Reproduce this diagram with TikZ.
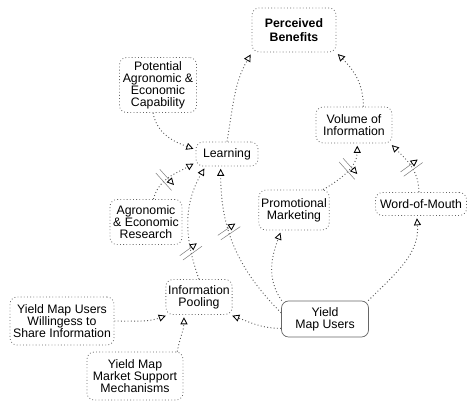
\documentclass[tikz,border=0pt]{standalone}
\usepackage{fontspec}
\setmainfont{Liberation Sans}
\usetikzlibrary{arrows.meta,decorations.markings}

\begin{document}
\begin{tikzpicture}[x=0.03cm, y=0.03cm]
    % --- CONFIGURAZIONE ---
    \tikzset{
        var_box/.style={draw=gray!80!black, dotted, line width=0.7pt, rounded corners=6pt, align=center, inner sep=2pt, font=\fontsize{10.5}{10.2}\selectfont},
        goal_box/.style={var_box, font=\fontsize{10.5}{11.5}\selectfont\bfseries},
        stock_box/.style={var_box, solid, draw=gray!80!black, line width=0.6pt},
        box_size/.style 2 args={minimum width=#1*0.03cm, minimum height=#2*0.03cm},
        link/.style={draw=gray!70!black, dotted, line width=0.8pt, shorten >=2pt,
            -{Triangle[open, length=6pt, width=6pt, line width=0.7pt, color=black]}},
        % segno di ritardo, angolo assoluto
        delay_mark/.style 2 args={postaction={decorate, decoration={markings,
            mark=at position #1 with {\pgftransformresetnontranslations
                \draw[solid, gray, line width=0.45pt, rotate=#2] (-10pt,-2.3pt) -- (10pt,-2.3pt) (-10pt,2.3pt) -- (10pt,2.3pt);}}}}
    }

    \useasboundingbox (0,0) rectangle (474,-405);

    % ===================================================
    % 1. VARIABILI
    % ===================================================
    \node[goal_box, box_size={84}{44}] (benefits) at (294,-30) {Perceived\\Benefits};
    \node[var_box, box_size={77}{55}] (potential) at (158,-85) {Potential\\Agronomic \&\\Economic\\Capability};
    \node[var_box, box_size={76}{36}] (volume) at (354,-125) {Volume of\\Information};
    \node[var_box, box_size={62}{24}] (learning) at (227,-154) {Learning};
    \node[var_box, box_size={68}{40}] (promo) at (294,-210) {Promotional\\Marketing};
    \node[var_box, box_size={91}{23}] (wom) at (421,-204) {Word-of-Mouth};
    \node[var_box, box_size={72}{45}] (research) at (146,-222) {Agronomic\\\& Economic\\Research};
    \node[var_box, box_size={66}{35}] (pooling) at (199,-297) {Information\\Pooling};
    \node[stock_box, box_size={87}{36}] (users) at (325,-319) {Yield\\Map Users};
    \node[var_box, box_size={104}{48}] (willing) at (62,-321) {Yield Map Users\\Willingess to\\Share Information};
    \node[var_box, box_size={96}{48}] (support) at (135,-376) {Yield Map\\Market Support\\Mechanisms};

    % ===================================================
    % 2. COLLEGAMENTI
    % ===================================================
    \draw[link] (learning.north) to[out=80, in=-120] (benefits.-152);
    \draw[link] (volume.63) to[out=90, in=-45] (benefits.-28);
    \draw[link] (potential.-100) to[out=-80, in=160] (learning.172);

    % con ritardo (//)
    \draw[link, delay_mark={0.4}{-48}] (research.72) to[out=75, in=-150] (learning.-165);
    \draw[link, delay_mark={0.25}{36}] (pooling.north) to[out=110, in=-120] (learning.-150);
    \draw[link, delay_mark={0.6}{34}] (users.172) to[out=135, in=-90] (learning.-117);
    \draw[link, delay_mark={0.55}{-48}] (promo.35) to[out=30, in=-90] (volume.-80);
    \draw[link, delay_mark={0.45}{36}] (wom.100) to[out=90, in=-45] (volume.-27);

    \draw[link] (users.157) to[out=125, in=-110] (promo.-122);
    \draw[link] (users.23) to[out=45, in=-85] (wom.-110);
    \draw[link] (users.-168) to[out=180, in=-20] (pooling.-30);
    \draw[link] (willing.east) to[out=0, in=-160] (pooling.-150);
    \draw[link] (support.30) to[out=80, in=-90] (pooling.-130);

\end{tikzpicture}
\end{document}
